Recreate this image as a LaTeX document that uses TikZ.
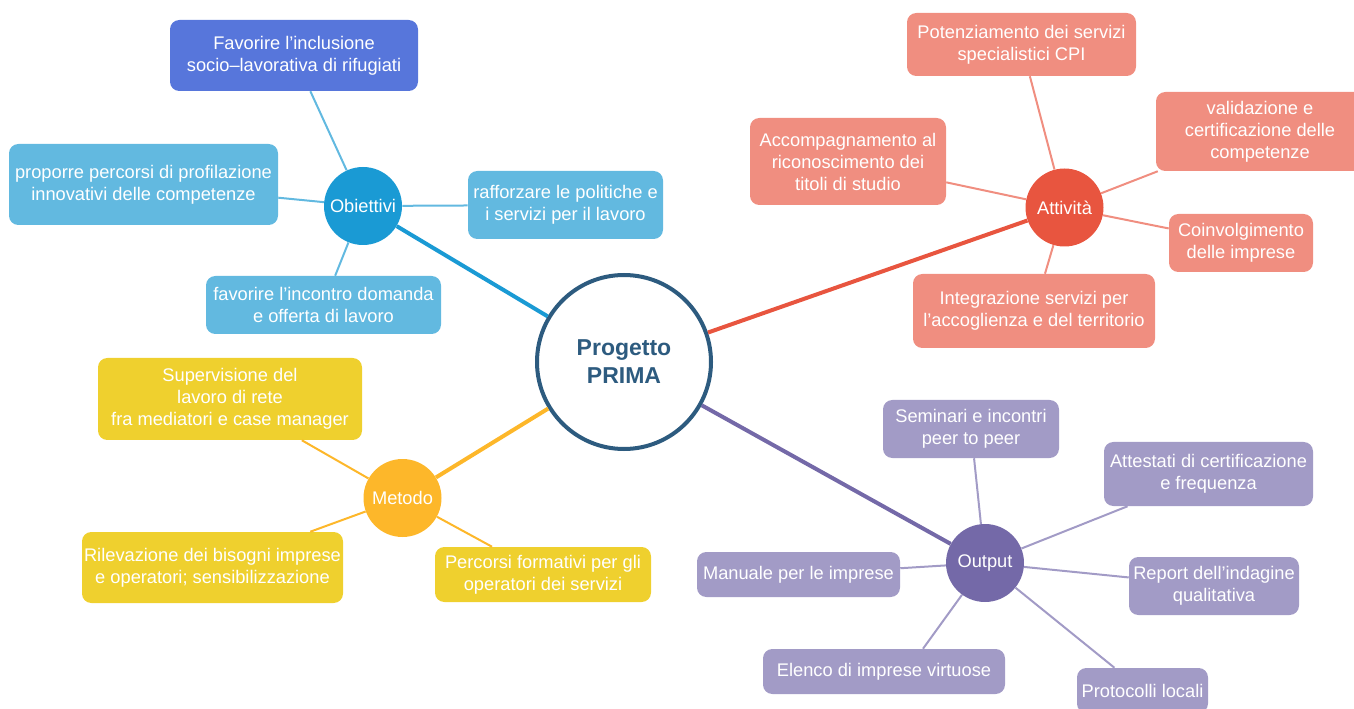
\documentclass[tikz,border=0pt]{standalone}
\usepackage{fontspec}
\setmainfont{Liberation Sans}
\definecolor{cdark}{HTML}{2D5B7F}
\definecolor{objD}{HTML}{1A9AD4}
\definecolor{objL}{HTML}{62B9E0}
\definecolor{objT}{HTML}{5776DB}
\definecolor{attD}{HTML}{E8553F}
\definecolor{attL}{HTML}{F08E80}
\definecolor{metD}{HTML}{FDB72A}
\definecolor{metL}{HTML}{EFD02E}
\definecolor{outD}{HTML}{7469A8}
\definecolor{outL}{HTML}{A29BC6}
\tikzset{
  box/.style={rectangle, rounded corners=7pt, inner sep=0pt, align=center, text=white,
    font=\fontsize{13.7}{16.5}\selectfont},
  bsize/.style 2 args={minimum width=#1*0.75pt, minimum height=#2*0.75pt},
  hub/.style={circle, inner sep=0pt, minimum size=58.5pt, text=white,
    font=\fontsize{13.7}{16.5}\selectfont},
  core/.style={circle, draw=cdark, line width=3pt, fill=white, minimum size=130.5pt,
    inner sep=0pt, align=center, text=cdark, font=\fontsize{17.25}{21}\selectfont\bfseries},
  mainline/.style={line width=3pt},
  subline/.style={line width=1.5pt}
}
\begin{document}
\begin{tikzpicture}[x=0.75pt,y=-0.75pt]
\useasboundingbox (0,0) rectangle (1354,709);
\clip (0,0) rectangle (1354,709);
% centre
\node[core] (c) at (624,362) {Progetto\\PRIMA};
% Obiettivi
\node[hub, fill=objD] (obj) at (363,206) {Obiettivi};
\node[box, fill=objT, bsize={248}{71}] (fav) at (294,55.5) {Favorire l’inclusione\\socio–lavorativa di rifugiati};
\node[box, fill=objL, bsize={269}{81}] (prop) at (143.5,184.5) {proporre percorsi di profilazione\\innovativi delle competenze};
\node[box, fill=objL, bsize={195}{68}] (raff) at (565.5,205) {rafforzare le politiche e\\i servizi per il lavoro};
\node[box, fill=objL, bsize={235}{58}] (finc) at (323.5,305) {favorire l’incontro domanda\\e offerta di lavoro};
% Attivita
\node[hub, fill=attD] (att) at (1064.5,207.5) {Attività};
\node[box, fill=attL, bsize={229}{63}] (pot) at (1021.5,44.5) {Potenziamento dei servizi\\specialistici CPI};
\node[box, fill=attL, bsize={196}{87}] (acc) at (848,161.5) {Accompagnamento al\\riconoscimento dei\\titoli di studio};
\node[box, fill=attL, bsize={208}{79}] (val) at (1260,131.5) {validazione e\\certificazione delle\\competenze};
\node[box, fill=attL, bsize={144}{58}] (coin) at (1241,243) {Coinvolgimento\\delle imprese};
\node[box, fill=attL, bsize={242}{74}] (integ) at (1034,311) {Integrazione servizi per\\l’accoglienza e del territorio};
% Metodo
\node[hub, fill=metD] (met) at (402.5,498) {Metodo};
\node[box, fill=metL, bsize={264}{82}] (sup) at (230,399) {Supervisione del\\lavoro di rete\\fra mediatori e case manager};
\node[box, fill=metL, bsize={261}{71}] (ril) at (212.5,567.5) {Rilevazione dei bisogni imprese\\e operatori; sensibilizzazione};
\node[box, fill=metL, bsize={216}{55}] (perc) at (543,574.5) {Percorsi formativi per gli\\operatori dei servizi};
% Output
\node[hub, fill=outD] (out) at (985,563) {Output};
\node[box, fill=outL, bsize={176}{58}] (sem) at (971,429) {Seminari e incontri\\peer to peer};
\node[box, fill=outL, bsize={209}{64}] (attes) at (1208.5,474) {Attestati di certificazione\\e frequenza};
\node[box, fill=outL, bsize={203}{45}] (man) at (798.5,574.5) {Manuale per le imprese};
\node[box, fill=outL, bsize={170}{58}] (rep) at (1214,586) {Report dell’indagine\\qualitativa};
\node[box, fill=outL, bsize={242}{45}] (ele) at (884,671.5) {Elenco di imprese virtuose};
\node[box, fill=outL, bsize={131}{45}] (prot) at (1142.5,690.5) {Protocolli locali};
% main connectors
\draw[mainline, objD] (c) -- (obj);
\draw[mainline, attD] (c) -- (att);
\draw[mainline, metD] (c) -- (met);
\draw[mainline, outD] (c) -- (out);
% sub connectors
\draw[subline, objL] (obj) -- (fav);
\draw[subline, objL] (obj) -- (prop);
\draw[subline, objL] (obj) -- (raff);
\draw[subline, objL] (obj) -- (finc);
\draw[subline, attL] (att) -- (pot);
\draw[subline, attL] (att) -- (acc);
\draw[subline, attL] (att) -- (val);
\draw[subline, attL] (att) -- (coin);
\draw[subline, attL] (att) -- (integ);
\draw[subline, metD] (met) -- (sup);
\draw[subline, metD] (met) -- (ril);
\draw[subline, metD] (met) -- (perc);
\draw[subline, outL] (out) -- (sem);
\draw[subline, outL] (out) -- (attes);
\draw[subline, outL] (out) -- (man);
\draw[subline, outL] (out) -- (rep);
\draw[subline, outL] (out) -- ([xshift=29.25pt]ele.north);
\draw[subline, outL] (out) -- (prot);
\end{tikzpicture}
\end{document}
